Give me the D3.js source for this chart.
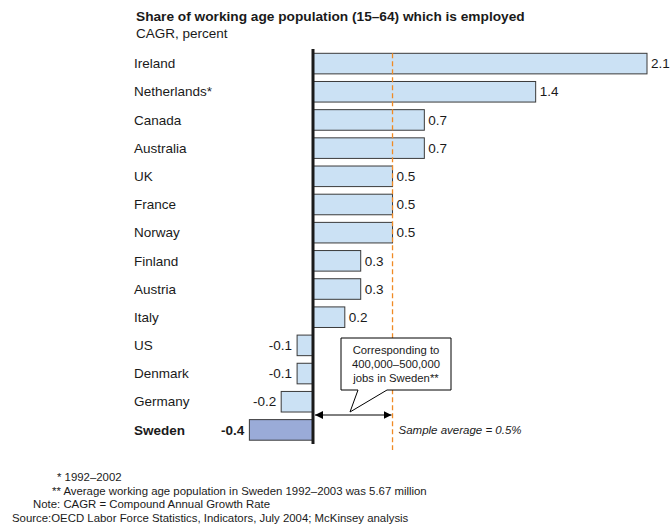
<!DOCTYPE html>
<html>
<head>
<meta charset="utf-8">
<script src="https://cdn.jsdelivr.net/npm/d3@7"></script>
<style>
  html, body { margin: 0; padding: 0; background: #fff; }
  svg { display: block; font-family: "Liberation Sans", Arial, sans-serif; }
</style>
</head>
<body>
<svg id="chart" width="672" height="524"></svg>
<script>
// Employment-rate growth by country, 1992–2003 (CAGR, percent)
const countries = ["Ireland", "Netherlands*", "Canada", "Australia", "UK", "France", "Norway",
                   "Finland", "Austria", "Italy", "US", "Denmark", "Germany", "Sweden"];
const cagr = [2.1, 1.4, 0.7, 0.7, 0.5, 0.5, 0.5, 0.3, 0.3, 0.2, -0.1, -0.1, -0.2, -0.4];
const highlight = "Sweden";
const sampleAverage = 0.5;

const titleText = "Share of working age population (15–64) which is employed";
const subtitleText = "CAGR, percent";
const calloutLines = ["Corresponding to", "400,000–500,000", "jobs in Sweden**"];
const averageLabel = "Sample average = 0.5%";
const footnotes = [
  { text: "* 1992–2002", x: 57 },
  { text: "** Average working age population in Sweden 1992–2003 was 5.67 million", x: 52 },
  { text: "Note: CAGR = Compound Annual Growth Rate", x: 33 },
  { text: "Source:OECD Labor Force Statistics, Indicators, July 2004; McKinsey analysis", x: 12 }
];

const data = countries.map((c, i) => ({ country: c, value: cagr[i] }));
const svg = d3.select("#chart");
const fmt = v => (v < 0 ? "-" : "") + d3.format(".1f")(Math.abs(v));

const x = d3.scaleLinear().domain([0, 2.1]).range([313, 647]);
const y = d3.scaleBand().domain(countries).range([49.5, 444]).paddingInner(0.27).paddingOuter(0.135);

// Title
svg.append("text").attr("x", 136).attr("y", 21)
  .attr("font-size", 13.7).attr("font-weight", "bold").attr("fill", "#1a1a1a").text(titleText);
svg.append("text").attr("x", 136).attr("y", 38)
  .attr("font-size", 13.5).attr("fill", "#1a1a1a").text(subtitleText);

// Category labels
svg.append("g").selectAll("text").data(data).join("text")
  .attr("x", 134)
  .attr("y", d => y(d.country) + y.bandwidth() / 2)
  .attr("dy", "0.35em")
  .attr("font-size", 13.5)
  .attr("font-weight", d => d.country === highlight ? "bold" : "normal")
  .attr("fill", "#1a1a1a")
  .text(d => d.country);

// Bars
svg.append("g").selectAll("rect").data(data).join("rect")
  .attr("x", d => Math.min(x(0), x(d.value)))
  .attr("y", d => y(d.country))
  .attr("width", d => Math.abs(x(d.value) - x(0)))
  .attr("height", y.bandwidth())
  .attr("fill", d => d.country === highlight ? "#9aabd8" : "#cbe1f4")
  .attr("stroke", "#3a3a3a")
  .attr("stroke-width", 1);

// Value labels
svg.append("g").selectAll("text").data(data).join("text")
  .attr("x", d => d.value >= 0 ? x(d.value) + 4 : x(d.value) - 5)
  .attr("y", d => y(d.country) + y.bandwidth() / 2)
  .attr("dy", "0.35em")
  .attr("text-anchor", d => d.value >= 0 ? "start" : "end")
  .attr("font-size", 13.5)
  .attr("font-weight", d => d.country === highlight ? "bold" : "normal")
  .attr("fill", "#1a1a1a")
  .text(d => fmt(d.value));

// Sample average reference line
svg.append("line")
  .attr("x1", x(sampleAverage)).attr("x2", x(sampleAverage))
  .attr("y1", y(countries[0])).attr("y2", 450)
  .attr("stroke", "#f08a24").attr("stroke-width", 1.3)
  .attr("stroke-dasharray", "5,3");

svg.append("text")
  .attr("x", x(sampleAverage) + 6).attr("y", y(highlight) + y.bandwidth() / 2)
  .attr("dy", "0.35em")
  .attr("font-size", 11.5).attr("font-style", "italic").attr("fill", "#1a1a1a")
  .text(averageLabel);

// Zero axis
svg.append("line")
  .attr("x1", x(0)).attr("x2", x(0))
  .attr("y1", 49).attr("y2", 444)
  .attr("stroke", "#1a1a1a").attr("stroke-width", 3);

// Gap arrow between zero and the sample average
const defs = svg.append("defs");
defs.append("marker").attr("id", "arrow").attr("viewBox", "0 0 10 10")
  .attr("refX", 10).attr("refY", 5).attr("markerWidth", 8).attr("markerHeight", 8)
  .attr("markerUnits", "userSpaceOnUse").attr("orient", "auto-start-reverse")
  .append("path").attr("d", "M0,0 L10,5 L0,10 Z").attr("fill", "#000");

const arrowY = 415;
svg.append("line")
  .attr("x1", x(0) + 2).attr("x2", x(sampleAverage) - 1)
  .attr("y1", arrowY).attr("y2", arrowY)
  .attr("stroke", "#000").attr("stroke-width", 1)
  .attr("marker-start", "url(#arrow)").attr("marker-end", "url(#arrow)");

// Callout box with pointer to the arrow
const box = { x0: 341, y0: 338, x1: 451, y1: 390 };
const tip = { x: 350, y: 412 };
svg.append("path")
  .attr("d", `M${box.x0},${box.y0} H${box.x1} V${box.y1} H387 L${tip.x},${tip.y} L358,${box.y1} H${box.x0} Z`)
  .attr("fill", "#fff").attr("stroke", "#000").attr("stroke-width", 1);

svg.append("g").selectAll("text").data(calloutLines).join("text")
  .attr("x", (box.x0 + box.x1) / 2)
  .attr("y", (d, i) => 354 + i * 14)
  .attr("text-anchor", "middle")
  .attr("font-size", 11.3).attr("fill", "#1a1a1a")
  .text(d => d);

// Footnotes
svg.append("g").selectAll("text").data(footnotes).join("text")
  .attr("x", d => d.x)
  .attr("y", (d, i) => 481 + i * 13.7)
  .attr("font-size", 11.4).attr("fill", "#1a1a1a")
  .text(d => d.text);
</script>
</body>
</html>
